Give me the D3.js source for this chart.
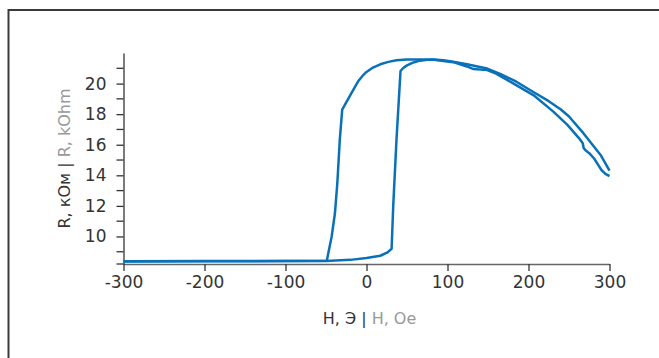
<!DOCTYPE html>
<html>
<head>
<meta charset="utf-8">
<script src="https://cdn.jsdelivr.net/npm/d3@7"></script>
<style>
  html, body { margin: 0; padding: 0; background: #fff; }
  svg { display: block; font-family: "DejaVu Sans", sans-serif; }
</style>
</head>
<body>
<div id="chart"></div>
<script>
// ветвь при увеличении поля (H: -300 -> 300)
const upH = [-300, -200, -100, -50, -20, 0, 17, 26, 31, 33, 37, 42, 45, 50, 58, 66, 75, 83, 95, 107, 124, 140, 149, 165, 185, 206, 225, 240, 250, 268, 289, 300];
const upR = [8.37, 8.38, 8.39, 8.40, 8.47, 8.59, 8.74, 8.96, 9.2, 12.0, 16.3, 20.82, 21.0, 21.19, 21.38, 21.5, 21.56, 21.58, 21.52, 21.43, 21.26, 21.08, 20.98, 20.64, 20.12, 19.45, 18.85, 18.3, 17.85, 16.74, 15.33, 14.3];
// ветвь при уменьшении поля (H: 300 -> -300)
const downH = [300, 295, 290, 287, 281, 275, 270, 268, 267, 262, 248, 231, 206, 180, 160, 149, 132, 124, 107, 83, 70, 58, 50, 37, 27, 17, 8, 0, -5, -10, -20, -30, -33, -36, -39, -43, -49, -100, -200, -300];
const downR = [13.95, 14.1, 14.35, 14.6, 15.1, 15.45, 15.65, 15.8, 16.1, 16.45, 17.3, 18.15, 19.25, 20.05, 20.65, 20.88, 20.95, 21.12, 21.4, 21.56, 21.57, 21.58, 21.57, 21.52, 21.42, 21.26, 21.05, 20.76, 20.5, 20.17, 19.24, 18.3, 16.3, 13.5, 11.5, 10.0, 8.42, 8.40, 8.39, 8.38];

const xTicks = [-300, -200, -100, 0, 100, 200, 300];
const yTicks = [10, 12, 14, 16, 18, 20];
const yMinorTicks = [9, 11, 13, 15, 17, 19, 21];

const xTitleRu = "Н, Э";
const xTitleEn = "H, Oe";
const yTitleRu = "R, кОм";
const yTitleEn = "R, kOhm";

const width = 659, height = 358;
const margin = {top: 53, right: 49.5, bottom: 94, left: 123.5};

const svg = d3.select("#chart")
  .append("svg")
    .attr("width", width)
    .attr("height", height);

// рамка
svg.append("path")
  .attr("d", `M8.5,${height} V10 H${width}`)
  .attr("fill", "none")
  .attr("stroke", "#3a3a3a")
  .attr("stroke-width", 2);

const x = d3.scaleLinear()
  .domain([-300, 300])
  .range([margin.left, width - margin.right]);
const y = d3.scaleLinear()
  .domain([8.2, 22])
  .range([height - margin.bottom, margin.top]);

// ось X
const gx = svg.append("g")
  .attr("transform", `translate(0,${height - margin.bottom})`)
  .call(d3.axisBottom(x).tickValues(xTicks).tickSize(7).tickSizeOuter(0).tickPadding(5));
gx.select(".domain").attr("stroke", "#666").attr("stroke-width", 1.3);
gx.selectAll(".tick line").attr("stroke", "#333").attr("stroke-width", 1.3);
gx.selectAll(".tick text")
  .attr("fill", "#333")
  .attr("font-size", 17)
  .attr("font-family", "DejaVu Sans")
  .text(d => d < 0 ? "-" + Math.abs(d) : d);

// ось Y
const gy = svg.append("g")
  .attr("transform", `translate(${margin.left},0)`)
  .call(d3.axisLeft(y).tickValues(yTicks).tickSize(7).tickSizeOuter(0).tickPadding(10));
gy.select(".domain").attr("stroke", "#333").attr("stroke-width", 1.3);
gy.selectAll(".tick line").attr("stroke", "#333").attr("stroke-width", 1.3);
gy.selectAll(".tick text")
  .attr("fill", "#333")
  .attr("font-size", 17)
  .attr("font-family", "DejaVu Sans");
gy.selectAll(".minor")
  .data(yMinorTicks)
  .enter()
  .append("line")
    .classed("minor", true)
    .attr("x1", -7)
    .attr("x2", 0)
    .attr("y1", d => y(d))
    .attr("y2", d => y(d))
    .attr("stroke", "#333")
    .attr("stroke-width", 1.3);
// нижний внешний штрих
gy.append("line")
  .attr("x1", -7)
  .attr("x2", 0)
  .attr("y1", y.range()[0])
  .attr("y2", y.range()[0])
  .attr("stroke", "#333")
  .attr("stroke-width", 1.3);

// подписи осей
const xt = svg.append("text")
  .attr("x", (x.range()[0] + x.range()[1]) / 2 + 3)
  .attr("y", 324)
  .attr("text-anchor", "middle")
  .attr("font-size", 16);
xt.append("tspan").attr("fill", "#333").text(xTitleRu + " ");
xt.append("tspan").attr("fill", "#333").text("|");
xt.append("tspan").attr("fill", "#999").text(" " + xTitleEn);

const yt = svg.append("text")
  .attr("transform", `translate(70,${(y.range()[0] + y.range()[1]) / 2}) rotate(-90)`)
  .attr("text-anchor", "middle")
  .attr("font-size", 16);
yt.append("tspan").attr("fill", "#333").text(yTitleRu + " ");
yt.append("tspan").attr("fill", "#333").text("|");
yt.append("tspan").attr("fill", "#999").text(" " + yTitleEn);

// петля гистерезиса
const line = d3.line()
  .x(d => x(d[0]))
  .y(d => y(d[1]));

const branches = [
  d3.zip(upH, upR),
  d3.zip(downH, downR)
];
svg.selectAll(".branch")
  .data(branches)
  .enter()
  .append("path")
    .classed("branch", true)
    .attr("d", line)
    .attr("fill", "none")
    .attr("stroke", "#0a71b9")
    .attr("stroke-width", 2.5)
    .attr("stroke-linejoin", "round");
</script>
</body>
</html>
